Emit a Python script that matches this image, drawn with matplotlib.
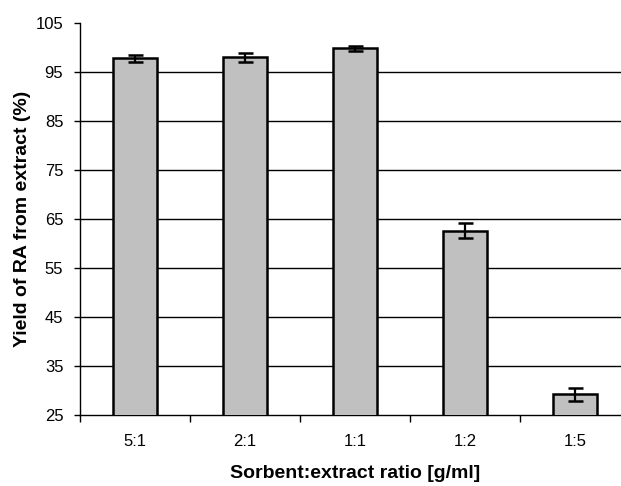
import matplotlib
matplotlib.use("Agg")
import matplotlib.pyplot as plt
import numpy as np

categories = ["5:1", "2:1", "1:1", "1:2", "1:5"]
yield_values = [97.8, 98.0, 99.8, 62.6, 29.2]
yield_errors = [0.7, 0.9, 0.5, 1.5, 1.3]
y_ticks = [25, 35, 45, 55, 65, 75, 85, 95, 105]

plt.rcParams['font.family'] = ['Liberation Sans', 'DejaVu Sans']

W, H = 621, 486
fig = plt.figure(figsize=(W / 100, H / 100), dpi=100)
left, right, bottom, top = 80, 630, 415, 23
ax = fig.add_axes([left / W, (H - bottom) / H, (right - left) / W, (bottom - top) / H])

x = np.arange(len(categories))
ax.bar(x, yield_values, width=0.4, color="#C0C0C0", edgecolor="black",
       linewidth=1.8, zorder=3)
ax.errorbar(x, yield_values, yerr=yield_errors, fmt="none", ecolor="black",
            elinewidth=1.6, capsize=5.4, capthick=1.8, zorder=4)

ax.set_xlim(-0.5, len(categories) - 0.5)
ax.set_ylim(25, 105)
ax.set_yticks(y_ticks)
ax.set_yticklabels([str(v) for v in y_ticks], fontsize=12)

ax.set_xticks(np.arange(-0.5, len(categories), 1.0))
ax.set_xticklabels([])
ax.set_xticks(x, minor=True)
ax.set_xticklabels(categories, minor=True, fontsize=12)
ax.tick_params(axis="x", which="major", length=5, width=1, direction="out")
ax.tick_params(axis="x", which="minor", length=0, pad=14)
ax.tick_params(axis="y", length=4, width=1, direction="out", pad=8)

ax.yaxis.grid(True, color="black", linewidth=1)
ax.set_axisbelow(True)
gl = ax.get_ygridlines()
gl[0].set_visible(False)
gl[-1].set_visible(False)

for s in ["top", "right"]:
    ax.spines[s].set_visible(False)
for s in ["left", "bottom"]:
    ax.spines[s].set_linewidth(1)
    ax.spines[s].set_color("black")

ax.set_xlabel("Sorbent:extract ratio [g/ml]", fontsize=14, fontweight="bold", labelpad=11)
ax.set_ylabel("Yield of RA from extract (%)", fontsize=14, fontweight="bold", labelpad=3)

fig.savefig("out.png", dpi=100)
